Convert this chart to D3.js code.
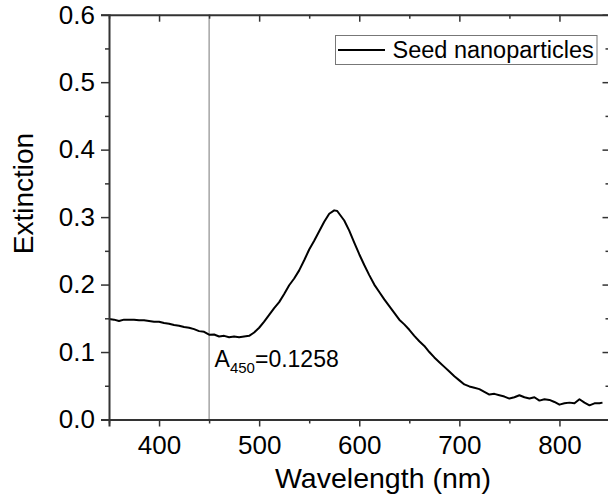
<!DOCTYPE html>
<html><head><meta charset="utf-8">
<script src="https://cdn.jsdelivr.net/npm/d3@7"></script>
<style>html,body{margin:0;padding:0;background:#fff;}svg{display:block;font-family:"Liberation Sans",Arial,sans-serif;}</style>
</head><body>
<script>
const wavelengths = [350,355,360,365,370,375,380,385,390,395,400,405,410,415,420,425,430,435,440,445,450,455,460,465,470,475,480,485,490,495,500,505,510,515,520,525,530,535,540,545,550,555,560,565,570,575,578,580,585,590,595,600,605,610,615,620,625,630,635,640,645,650,655,660,665,670,675,680,685,690,695,700,705,710,715,720,725,730,735,740,745,750,755,760,765,770,775,780,785,790,795,800,805,810,815,820,825,830,835,840,843];
const extinction = [0.149,0.148,0.146,0.148,0.148,0.148,0.147,0.147,0.146,0.145,0.145,0.143,0.142,0.140,0.139,0.137,0.136,0.134,0.131,0.130,0.1258,0.126,0.123,0.124,0.122,0.123,0.122,0.123,0.124,0.129,0.136,0.145,0.155,0.165,0.174,0.186,0.199,0.209,0.221,0.236,0.252,0.265,0.279,0.293,0.305,0.310,0.309,0.305,0.295,0.280,0.262,0.245,0.229,0.214,0.200,0.189,0.178,0.168,0.158,0.148,0.141,0.133,0.124,0.116,0.109,0.100,0.092,0.085,0.078,0.071,0.064,0.058,0.052,0.049,0.047,0.045,0.041,0.037,0.038,0.036,0.034,0.031,0.033,0.036,0.033,0.031,0.033,0.028,0.030,0.029,0.026,0.022,0.024,0.025,0.024,0.030,0.025,0.021,0.024,0.024,0.025];
const seriesName = "Seed nanoparticles";
const xTicks = [400,500,600,700,800];
const yTicks = [0.0,0.1,0.2,0.3,0.4,0.5,0.6];
const markerX = 450;
const annotation = {base:"A", sub:"450", rest:"=0.1258"};

const W=608,H=502;
const L=109,R=609.5,T=14.7,B=419.5;
const svg=d3.select("body").append("svg").attr("width",W).attr("height",H);
const x=d3.scaleLinear().domain([350,850]).range([L,R]);
const y=d3.scaleLinear().domain([0,0.6]).range([B,T]);

// marker line
svg.append("line").attr("x1",x(markerX)).attr("x2",x(markerX)).attr("y1",T).attr("y2",B)
  .attr("stroke","#777").attr("stroke-width",1);

// data line
const data=wavelengths.map((w,i)=>[w,extinction[i]]);
svg.append("path").datum(data).attr("fill","none").attr("stroke","#000").attr("stroke-width",2)
  .attr("stroke-linejoin","round")
  .attr("d",d3.line().x(d=>x(d[0])).y(d=>y(d[1])));

const ax="#333";
function style(g){
  g.select(".domain").attr("stroke",ax).attr("stroke-width",2);
  g.selectAll(".tick line").attr("stroke",ax).attr("stroke-width",1.5);
  g.selectAll(".tick text").attr("font-size",26).attr("fill","#000").attr("font-family","Liberation Sans, Arial, sans-serif");
}
const xMinor=d3.range(350,851,50);
const yMinor=d3.range(0,0.601,0.05);
// bottom
const gb=svg.append("g").attr("transform",`translate(0,${B})`)
  .call(d3.axisBottom(x).tickValues(xTicks).tickSize(7).tickPadding(9).tickFormat(d3.format("d")));
style(gb);
svg.append("g").attr("transform",`translate(0,${B})`).call(d3.axisBottom(x).tickValues(xMinor.filter(v=>!xTicks.includes(v))).tickSize(4).tickFormat("")).call(g=>{g.select(".domain").remove();g.selectAll("line").attr("stroke",ax).attr("stroke-width",1.5);});
// left
const gl=svg.append("g").attr("transform",`translate(${L},0)`)
  .call(d3.axisLeft(y).tickValues(yTicks).tickSize(8).tickPadding(6).tickFormat(d3.format(".1f")));
style(gl);
svg.append("g").attr("transform",`translate(${L},0)`).call(d3.axisLeft(y).tickValues(yMinor.filter((v,i)=>i%2===1)).tickSize(4).tickFormat("")).call(g=>{g.select(".domain").remove();g.selectAll("line").attr("stroke",ax).attr("stroke-width",1.5);});
// top
const gt=svg.append("g").attr("transform",`translate(0,${T})`)
  .call(d3.axisBottom(x).tickValues(xMinor).tickSizeInner(0).tickSizeOuter(0).tickFormat(""));
gt.select(".domain").attr("stroke",ax).attr("stroke-width",2);
gt.selectAll(".tick line").attr("y2",d=>xTicks.includes(d)?7:4).attr("stroke",ax).attr("stroke-width",1.5);
// right
const gr=svg.append("g").attr("transform",`translate(${R},0)`)
  .call(d3.axisLeft(y).tickValues(yMinor).tickSizeInner(0).tickSizeOuter(0).tickFormat(""));
gr.select(".domain").attr("stroke",ax).attr("stroke-width",2);
gr.selectAll(".tick line").attr("x2",(d,i)=>i%2===0?-7:-4).attr("stroke",ax).attr("stroke-width",1.5);

// axis titles
svg.append("text").attr("x",383).attr("y",488).attr("text-anchor","middle").attr("font-size",28.5).text("Wavelength (nm)");
svg.append("text").attr("transform",`translate(33,193.5) rotate(-90)`).attr("text-anchor","middle").attr("font-size",28).text("Extinction");

// legend
const lg=svg.append("g");
lg.append("rect").attr("x",335.5).attr("y",35.5).attr("width",261.5).attr("height",29).attr("fill","#fff").attr("stroke","#777").attr("stroke-width",1);
lg.append("line").attr("x1",338).attr("x2",385).attr("y1",50).attr("y2",50).attr("stroke","#000").attr("stroke-width",2);
lg.append("text").attr("x",392.5).attr("y",57.5).attr("font-size",23.5).text(seriesName);

// annotation
const t=svg.append("text").attr("x",x(markerX)+5.5).attr("y",366.7).attr("font-size",23);
t.append("tspan").text(annotation.base);
t.append("tspan").attr("dy",6).attr("font-size",15).text(annotation.sub);
t.append("tspan").attr("dy",-6).text(annotation.rest);
</script>
</body></html>
